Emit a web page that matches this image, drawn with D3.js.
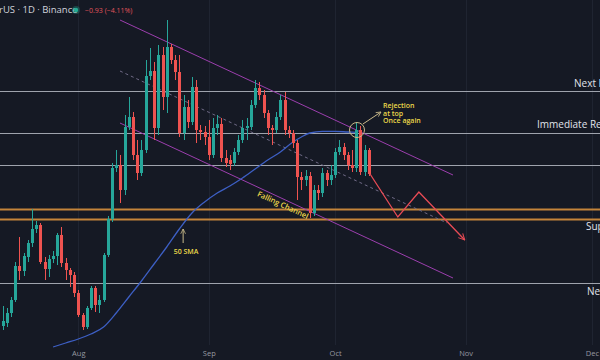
<!DOCTYPE html>
<html><head><meta charset="utf-8">
<script src="https://cdn.jsdelivr.net/npm/d3@7"></script>
<style>html,body{margin:0;padding:0;background:#151924;overflow:hidden}svg{display:block}</style>
</head><body><svg id="c" width="600" height="360"></svg>
<script>
// ---------- data ----------
const startDate = "2021-07-14";           // first daily candle
const openP  = [14.70,14.85,15.35,16.00,17.70,17.45,18.15,18.85,19.55,19.75,17.90,17.55,18.05,18.20,19.25,17.85,17.50,17.25,16.35,15.25,14.65,15.60,16.60,15.75,16.00,18.25,20.05,22.60,22.75,21.50,24.65,25.15,23.25,22.35,23.50,27.20,27.45,24.60,28.25,26.15,28.65,28.00,27.40,24.35,25.65,24.90,26.65,24.50,24.40,24.15,23.25,24.60,24.80,23.10,23.00,22.85,23.40,24.00,24.60,24.65,25.75,26.60,26.25,25.35,24.60,24.50,25.15,26.00,24.50,24.35,23.85,22.15,22.00,22.20,20.35,21.50,21.35,22.35,22.00,22.25,23.40,23.65,23.25,22.75,22.60,24.50,22.40,23.50];
const highP  = [15.70,15.60,16.15,17.90,19.15,18.35,19.00,20.55,19.95,19.85,18.15,18.25,18.45,19.35,19.65,18.10,17.60,17.40,16.50,15.35,15.70,16.70,16.70,16.25,18.35,20.20,22.85,23.50,23.25,25.25,26.15,25.40,24.00,24.00,28.00,28.60,27.90,28.75,28.65,30.00,28.80,28.25,28.25,26.25,26.00,27.15,27.00,24.75,24.70,25.00,25.10,25.25,25.10,23.50,23.25,23.60,24.25,25.00,25.10,26.00,27.00,26.90,26.50,25.50,24.75,25.40,26.25,26.40,24.70,24.50,24.00,22.40,22.50,22.40,21.75,21.75,22.60,22.50,22.75,23.60,24.00,23.85,23.40,23.50,24.90,24.70,23.75,23.60];
const lowP   = [14.50,14.65,15.15,15.90,17.00,17.20,17.90,18.65,19.35,17.80,17.00,17.15,17.85,17.75,17.65,17.00,16.65,16.15,15.15,14.50,14.55,15.50,15.40,15.35,15.90,18.15,19.90,22.40,20.85,21.25,24.50,23.00,22.00,22.20,23.35,27.00,24.00,24.25,25.50,25.35,27.80,27.00,24.15,24.00,24.60,24.75,23.85,24.00,23.75,23.00,23.10,24.25,22.90,22.65,22.50,22.70,23.25,23.85,24.00,24.50,25.60,26.00,25.10,24.25,23.75,24.35,25.00,24.25,24.10,23.60,21.00,21.50,21.70,20.10,20.20,21.00,21.15,21.70,21.75,22.10,23.25,23.00,22.50,22.40,22.40,22.25,22.20,22.20];
const closeP = [14.95,15.35,16.00,17.70,17.45,18.20,18.85,19.55,19.75,17.90,17.55,18.05,18.20,19.25,17.85,17.50,17.25,16.35,15.25,14.65,15.60,16.60,15.75,16.00,18.25,20.05,22.60,22.75,21.50,24.65,25.15,23.25,22.35,23.50,27.20,27.45,24.60,28.25,26.15,28.65,28.00,27.40,24.35,25.65,24.90,26.65,24.50,24.40,24.15,23.25,24.60,24.80,23.10,22.85,22.80,23.40,24.00,24.60,24.70,25.75,26.60,26.25,25.35,24.60,24.50,25.15,26.00,24.50,24.35,23.85,22.15,22.00,22.20,20.35,21.50,21.35,22.35,22.00,22.25,23.40,23.65,23.25,22.75,22.60,24.50,22.40,23.50,22.30];

// 50-day SMA, read at candle indices
const smaIndex = [12,15,18,21,24,27,30,33,36,39,42,45,48,51,54,57,60,63,66,69,71,73,76,79,82,84];
const smaValue = [13.65,13.85,14.05,14.30,14.65,15.35,16.15,16.95,17.80,18.65,19.55,20.35,20.90,21.35,21.70,22.10,22.55,23.00,23.40,23.90,24.15,24.35,24.43,24.43,24.40,24.38];

// horizontal levels
const levelNames  = ["Next Resistance","Immediate Resistance","Support","Next Support"];
const levelPrices = [26.45, 24.35, 20.075, 16.85];
const plainLevels = [22.75];
const supportBand = [20.55, 20.075];

const monthLabels = ["Aug","Sep","Oct","Nov","Dec"];
const monthDates  = ["2021-08-01","2021-09-01","2021-10-01","2021-11-01","2021-12-01"];

// drawings: [day offset from Aug 1, price]
const channelUpper = [[9.9,30.0],[89.0,22.25]];
const channelLower = [[9.9,24.85],[89.0,17.1]];
const channelMid   = [[9.9,27.45],[87.6,19.85]];
const projection   = [[69.3,22.3],[75.9,20.15],[80.9,21.4],[91.8,19.0]];
const rejectCircle = [66.2,24.5];
const rejectArrow  = [[67.6,24.8],[71.9,25.4]];
const rejectText   = ["Rejection","at top","Once again"];
const smaArrow     = [[24.9,18.85],[24.9,19.55]];
const smaLabelPos  = [25.6,18.4];

// ---------- chart ----------
const W = 600, H = 360;
const svg = d3.select("#c");
const parse = d3.utcParse("%Y-%m-%d");
const aug1 = parse("2021-08-01");
const day = d => new Date(aug1.getTime() + d*864e5);
const start = parse(startDate);
const dates = closeP.map((_,i)=> d3.utcDay.offset(start, i));

const x = d3.scaleUtc().domain([aug1, parse("2021-12-01")]).range([78.3, 78.3+122*4.21]);
const y = d3.scaleLinear().domain([13, 31]).range([360, 0]);

const UP = "#26a69a", DN = "#ef5350";

svg.append("rect").attr("width",W).attr("height",H).attr("fill","#151924");

// faint grid
svg.append("g").selectAll("line").data(monthDates).join("line")
  .attr("x1",d=>Math.round(x(parse(d)))+0.5).attr("x2",d=>Math.round(x(parse(d)))+0.5)
  .attr("y1",0).attr("y2",345).attr("stroke","#1f2431").attr("stroke-width",1);

// axis
const axis = d3.axisBottom(x).tickValues(monthDates.map(parse)).tickFormat((d,i)=>monthLabels[i]).tickSize(0);
const ag = svg.append("g").attr("transform","translate(0,349)").call(axis);
ag.select(".domain").remove();
ag.selectAll("text").attr("fill","#9598a1").attr("font-size",7.5).attr("font-family","Open Sans, sans-serif").attr("dy","0.55em");

// levels
const hl = (p,color,w)=> svg.append("line").attr("x1",0).attr("x2",W)
  .attr("y1",Math.round(y(p))+0.5).attr("y2",Math.round(y(p))+0.5).attr("stroke",color).attr("stroke-width",w);
levelPrices.forEach((p,i)=>{ if(i!==2) hl(p,"#9fa3ad",1); });
plainLevels.forEach(p=>hl(p,"#9fa3ad",1));
supportBand.forEach(p=>hl(p,"#c3843a",2));

const labelX = [574, 537, 586, 587];
const labelDy = [-4, -5, 11, 12];
svg.append("g").selectAll("text").data(levelNames).join("text")
  .attr("x",(d,i)=>labelX[i]).attr("y",(d,i)=>y(levelPrices[i])+labelDy[i])
  .attr("font-family","Open Sans, sans-serif").attr("font-size",10).attr("font-weight",500)
  .attr("fill","#e0e3eb").text(d=>d);

// channel
const line = d3.line().x(d=>x(day(d[0]))).y(d=>y(d[1]));
svg.append("path").attr("d",line(channelUpper)).attr("stroke","#9c3fae").attr("stroke-width",1).attr("fill","none");
svg.append("path").attr("d",line(channelLower)).attr("stroke","#9c3fae").attr("stroke-width",1).attr("fill","none");
svg.append("path").attr("d",line(channelMid)).attr("stroke","#6f6a86").attr("stroke-width",1).attr("stroke-dasharray","3,3").attr("fill","none");

// SMA
const smaLine = d3.line().curve(d3.curveMonotoneX).x((d,i)=>x(dates[smaIndex[i]])).y(d=>y(d));
svg.append("path").attr("d",smaLine(smaValue)).attr("stroke","#3d5fc4").attr("stroke-width",1.3).attr("fill","none");

// candles
const cg = svg.append("g");
closeP.forEach((c,i)=>{
  const o = openP[i], col = c>=o?UP:DN, cx = Math.round(x(dates[i]));
  cg.append("line").attr("x1",cx+0.5).attr("x2",cx+0.5).attr("y1",y(highP[i])).attr("y2",y(lowP[i])).attr("stroke",col).attr("stroke-width",1);
  const top = y(Math.max(o,c)), bot = y(Math.min(o,c));
  cg.append("rect").attr("x",cx-1).attr("y",top).attr("width",3).attr("height",Math.max(1,bot-top)).attr("fill",col);
});

// defs for arrows
const defs = svg.append("defs");
const mk = (id,color)=> defs.append("marker").attr("id",id).attr("viewBox","0 0 10 10").attr("refX",9).attr("refY",5)
  .attr("markerWidth",6).attr("markerHeight",6).attr("orient","auto-start-reverse")
  .append("path").attr("d","M1,1 L9,5 L1,9").attr("fill","none").attr("stroke",color).attr("stroke-width",1.3);
mk("ar","#e84b55"); mk("at","#c9b98a");

// projection
svg.append("path").attr("d",line(projection)).attr("stroke","#e84b55").attr("stroke-width",1.3).attr("fill","none").attr("marker-end","url(#ar)");

// rejection
svg.append("circle").attr("cx",x(day(rejectCircle[0]))).attr("cy",y(rejectCircle[1])).attr("r",7.5)
  .attr("fill","none").attr("stroke","#c9b98a").attr("stroke-width",1);
svg.append("path").attr("d",line(rejectArrow)).attr("stroke","#c9b98a").attr("stroke-width",1).attr("fill","none").attr("marker-end","url(#at)");
svg.append("g").selectAll("text").data(rejectText).join("text")
  .attr("x",x(day(72.4))).attr("y",(d,i)=>108+i*7.6)
  .attr("font-family","Open Sans, sans-serif").attr("font-size",7).attr("font-weight",600).attr("fill","#ecd84a").text(d=>d);

// 50 SMA annotation
svg.append("path").attr("d",line(smaArrow)).attr("stroke","#c9b98a").attr("stroke-width",1).attr("fill","none").attr("marker-end","url(#at)");
svg.append("text").attr("x",x(day(smaLabelPos[0]))).attr("y",y(smaLabelPos[1])).attr("text-anchor","middle").attr("dy","0.35em")
  .attr("font-family","Open Sans, sans-serif").attr("font-size",7).attr("font-weight",600).attr("fill","#ecd84a").text("50 SMA");

// Falling channel label
svg.append("text").attr("transform",`translate(${x(day(48.6))},${y(20.75)}) rotate(25)`).attr("text-anchor","middle").attr("dy","0.35em")
  .attr("font-family","Open Sans, sans-serif").attr("font-size",7.5).attr("font-weight",600).attr("fill","#ecd84a").text("Falling Channel");

// header
svg.append("text").attr("x",-1).attr("y",13).attr("font-family","Open Sans, sans-serif").attr("font-size",9.5)
  .attr("fill","#d1d4dc").text("rUS · 1D · Binance");
svg.append("circle").attr("cx",76).attr("cy",10).attr("r",4).attr("fill","#22ab94").attr("opacity",0.3);
svg.append("circle").attr("cx",76).attr("cy",10).attr("r",2.2).attr("fill","#22ab94");
svg.append("text").attr("x",85).attr("y",12.5).attr("font-family","Open Sans, sans-serif").attr("font-size",7)
  .attr("fill","#e0545c").text("−0.93 (−4.11%)");
</script></body></html>
